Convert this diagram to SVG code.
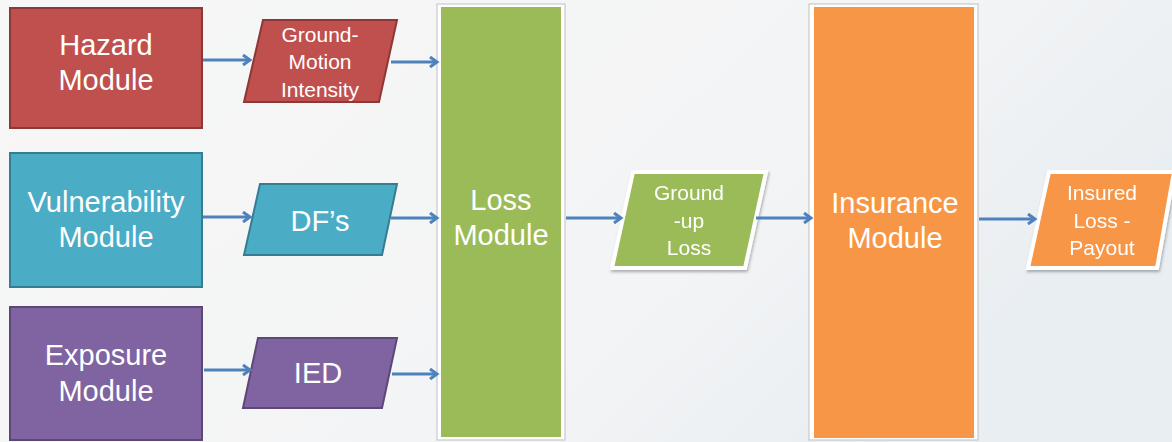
<svg xmlns="http://www.w3.org/2000/svg" width="1172" height="442" viewBox="0 0 1172 442">
<defs>
<linearGradient id="bg" x1="0" y1="0" x2="1" y2="0.4">
<stop offset="0" stop-color="#f7f7f7"/>
<stop offset="0.7" stop-color="#f3f4f5"/>
<stop offset="1" stop-color="#e9eef2"/>
</linearGradient>
<marker id="ah" markerWidth="12" markerHeight="12" refX="9" refY="6" orient="auto" markerUnits="userSpaceOnUse">
<polyline points="2,1 9,6 2,11" fill="none" stroke="#4f81bd" stroke-width="3" stroke-linejoin="miter"/>
</marker>
<filter id="sh" x="-10%" y="-10%" width="130%" height="130%">
<feDropShadow dx="1" dy="2" stdDeviation="1.5" flood-color="#000" flood-opacity="0.3"/>
</filter>
</defs>
<style>
text{font-family:"Liberation Sans",Arial,sans-serif;fill:#ffffff;text-anchor:middle}
.big{font-size:29px}
.small{font-size:21px}
.conn line{stroke:#4f81bd;stroke-width:3;marker-end:url(#ah)}
.red{fill:#c0504d;stroke:#8c3836;stroke-width:2}
.blue{fill:#4bacc6;stroke:#357d91;stroke-width:2}
.purple{fill:#8064a2;stroke:#5c4776;stroke-width:2}
.frame{fill:#ffffff;stroke:#bfbfbf;stroke-width:1}
</style>
<rect width="1172" height="442" fill="url(#bg)"/>

<g id="hazard">
<rect x="10" y="8" width="192" height="120" class="red"/>
<text class="big" x="106" y="55">Hazard</text>
<text class="big" x="106" y="90">Module</text>
</g>
<g id="vulnerability">
<rect x="10" y="153" width="192" height="134" class="blue"/>
<text class="big" x="106" y="212">Vulnerability</text>
<text class="big" x="106" y="247">Module</text>
</g>
<g id="exposure">
<rect x="10" y="307" width="192" height="133" class="purple"/>
<text class="big" x="106" y="365">Exposure</text>
<text class="big" x="106" y="401">Module</text>
</g>

<g id="ground-motion">
<polygon points="263,20 397,20 379,102 244,102" class="red"/>
<text class="small" x="320" y="42">Ground-</text>
<text class="small" x="320" y="69">Motion</text>
<text class="small" x="320" y="97">Intensity</text>
</g>
<g id="dfs">
<polygon points="260,184 397,184 382,255 244,255" class="blue"/>
<text class="big" x="320" y="231">DF’s</text>
</g>
<g id="ied">
<polygon points="258,338 397,338 382,408 243,408" class="purple"/>
<text class="big" x="318" y="383">IED</text>
</g>

<g id="loss-module">
<rect x="437" y="4" width="128" height="436" class="frame"/>
<rect x="441" y="7" width="120" height="430" fill="#9bbb59"/>
<text class="big" x="501" y="210">Loss</text>
<text class="big" x="501" y="245">Module</text>
</g>

<g id="ground-up-loss" filter="url(#sh)">
<polygon points="633,172 766,172 745,268 612,268" fill="#9bbb59" stroke="#ffffff" stroke-width="4"/>
<text class="small" x="689" y="200">Ground</text>
<text class="small" x="689" y="228">-up</text>
<text class="small" x="689" y="255">Loss</text>
</g>

<g id="insurance-module">
<rect x="809" y="4" width="169" height="436" class="frame"/>
<rect x="814" y="7" width="160" height="431" fill="#f79646"/>
<text class="big" x="895" y="213">Insurance</text>
<text class="big" x="895" y="248">Module</text>
</g>

<g id="insured-loss" filter="url(#sh)">
<polygon points="1049,172 1174,172 1157,268 1028,268" fill="#f79646" stroke="#ffffff" stroke-width="4"/>
<text class="small" x="1102" y="200">Insured</text>
<text class="small" x="1102" y="228">Loss -</text>
<text class="small" x="1102" y="255">Payout</text>
</g>

<g id="connectors" class="conn">
<line x1="203" y1="60" x2="250" y2="60"/>
<line x1="391" y1="62" x2="437" y2="62"/>
<line x1="203" y1="217" x2="250" y2="217"/>
<line x1="391" y1="218" x2="437" y2="218"/>
<line x1="204" y1="370" x2="250" y2="370"/>
<line x1="392" y1="374" x2="437" y2="374"/>
<line x1="566" y1="218" x2="621" y2="218"/>
<line x1="756" y1="218" x2="811" y2="218"/>
<line x1="979" y1="219" x2="1035" y2="219"/>
</g>
</svg>
